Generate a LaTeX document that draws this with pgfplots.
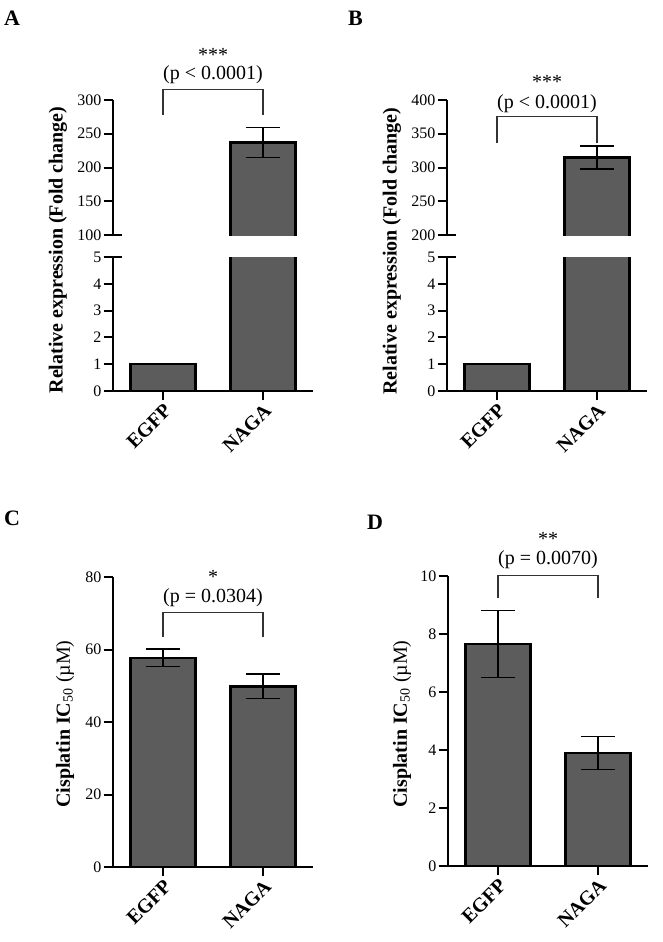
\documentclass[border=0pt]{standalone}
\usepackage{fontspec}
\setmainfont{Liberation Serif}
\usepackage{pgfplots}
\pgfplotsset{compat=1.18}
\definecolor{barfill}{RGB}{92,92,92}
\newcommand{\lblfont}{\fontsize{15}{18}\selectfont}
\newcommand{\panfont}{\fontsize{16.5}{19}\selectfont}
\newcommand{\tckfont}{\fontsize{12}{14}\selectfont}
\pgfplotsset{
  pan/.style={
    scale only axis, width=150pt,
    xmin=-0.5, xmax=1.5,
    axis x line=bottom, axis y line=left,
    x axis line style={-, line width=1.5pt},
    y axis line style={-, line width=1.5pt},
    tick align=outside, major tick length=7pt,
    tick style={black, line width=1.5pt},
    xtick={0,1}, xticklabels={EGFP,NAGA},
    xticklabel style={rotate=45, anchor=north east, font=\lblfont\bfseries, inner sep=1pt},
    yticklabel style={font=\tckfont, inner sep=1.5pt},
    /pgf/number format/assume math mode=true,
    minor tick num=0,
  },
  bars/.style={ybar, bar width=49pt, fill=barfill, draw=black, line width=1.8pt},
  errs/.style={draw=none, mark=none, forget plot,
    error bars/.cd, y dir=both, y explicit,
    error bar style={line width=1pt, draw=black},
    error mark=|, error mark options={draw=black, line width=1pt, mark size=12.5pt}},
  over/.style={scale only axis, width=150pt, xmin=-0.5, xmax=1.5, hide axis, clip=false},
  brk/.style={black!80, line width=0.8pt, sharp plot},
}
\begin{document}
\begin{tikzpicture}
\useasboundingbox (0,0) rectangle (496.5pt,-706.5pt);
% ---------------- Panel A ----------------
\begin{axis}[pan, at={(84.75pt,-176.25pt)}, anchor=south west, height=101.25pt,
  ymin=100, ymax=300, ytick={100,150,200,250,300}, axis x line=none,
  extra y ticks={100}, extra y tick labels={}, extra y tick style={tick align=inside}]
% upper part of the NAGA bar (237), drawn open at the break
\addplot[fill=barfill, draw=none] coordinates {(0.6733,0) (0.6733,237) (1.3267,237) (1.3267,0)} -- cycle;
\addplot[draw=black, line width=1.8pt] coordinates {(0.6733,0) (0.6733,237) (1.3267,237) (1.3267,0)};
\addplot[errs] coordinates {(1,237) +- (0,22)};
\end{axis}
\begin{axis}[pan, at={(84.75pt,-293.25pt)}, anchor=south west, height=100.5pt,
  ymin=0, ymax=5, ytick={0,1,2,3,4,5},
  extra y ticks={5}, extra y tick labels={}, extra y tick style={tick align=inside}]
\addplot[bars] coordinates {(0,1) (1,237)};
\end{axis}
\begin{axis}[over, at={(84.75pt,-176.25pt)}, anchor=south west, height=101.25pt, ymin=100, ymax=300]
\addplot[brk] coordinates {(0,278) (0,316) (1,316) (1,278)};
\node[font=\lblfont] at (axis cs:0.5,367) {***};
\node[font=\lblfont] at (axis cs:0.5,337) {(p \textless{} 0.0001)};
\end{axis}
% ---------------- Panel B ----------------
\begin{axis}[pan, at={(335.25pt,-176.25pt)}, anchor=south west, height=101.25pt,
  ymin=200, ymax=400, ytick={200,250,300,350,400}, axis x line=none,
  extra y ticks={200}, extra y tick labels={}, extra y tick style={tick align=inside}]
\addplot[fill=barfill, draw=none] coordinates {(0.6733,0) (0.6733,315) (1.3267,315) (1.3267,0)} -- cycle;
\addplot[draw=black, line width=1.8pt] coordinates {(0.6733,0) (0.6733,315) (1.3267,315) (1.3267,0)};
\addplot[errs] coordinates {(1,315) +- (0,17)};
\end{axis}
\begin{axis}[pan, at={(335.25pt,-293.25pt)}, anchor=south west, height=100.5pt,
  ymin=0, ymax=5, ytick={0,1,2,3,4,5},
  extra y ticks={5}, extra y tick labels={}, extra y tick style={tick align=inside}]
\addplot[bars] coordinates {(0,1) (1,315)};
\end{axis}
\begin{axis}[over, at={(335.25pt,-176.25pt)}, anchor=south west, height=101.25pt, ymin=200, ymax=400]
\addplot[brk] coordinates {(0,336) (0,375) (1,375) (1,336)};
\node[font=\lblfont] at (axis cs:0.5,426) {***};
\node[font=\lblfont] at (axis cs:0.5,394) {(p \textless{} 0.0001)};
\end{axis}
% ---------------- Panel C ----------------
\begin{axis}[pan, at={(84.75pt,-650.25pt)}, anchor=south west, height=217.5pt,
  ymin=0, ymax=80, ytick={0,20,40,60,80}, clip=false]
\addplot[bars] coordinates {(0,57.7) (1,49.8)};
\addplot[errs] coordinates {(0,57.7) +- (0,2.4) (1,49.8) +- (0,3.4)};
\addplot[brk] coordinates {(0,63.5) (0,70.1) (1,70.1) (1,63.5)};
\node[font=\lblfont] at (axis cs:0.5,80.0) {*};
\node[font=\lblfont] at (axis cs:0.5,74.2) {(p = 0.0304)};
\end{axis}
% ---------------- Panel D ----------------
\begin{axis}[pan, at={(336pt,-649.5pt)}, anchor=south west, height=217.5pt,
  ymin=0, ymax=10, ytick={0,2,4,6,8,10}, clip=false]
\addplot[bars] coordinates {(0,7.65) (1,3.9)};
\addplot[errs] coordinates {(0,7.65) +- (0,1.15) (1,3.9) +- (0,0.57)};
\addplot[brk] coordinates {(0,9.25) (0,10.03) (1,10.03) (1,9.25)};
\node[font=\lblfont] at (axis cs:0.5,11.27) {**};
\node[font=\lblfont] at (axis cs:0.5,10.57) {(p = 0.0070)};
\end{axis}
% ---------------- labels ----------------
\node[rotate=90, font=\lblfont\bfseries] at (43.5pt,-187.5pt) {Relative expression (Fold change)};
\node[rotate=90, font=\lblfont\bfseries] at (294pt,-188.5pt) {Relative expression (Fold change)};
\node[rotate=90, font=\lblfont] at (48.75pt,-543pt) {\textbf{Cisplatin IC}\textsubscript{50} (µM)};
\node[rotate=90, font=\lblfont] at (301.5pt,-543pt) {\textbf{Cisplatin IC}\textsubscript{50} (µM)};
\node[font=\panfont\bfseries] at (9pt,-13.9pt) {A};
\node[font=\panfont\bfseries] at (266.6pt,-13.9pt) {B};
\node[font=\panfont\bfseries] at (9pt,-388.9pt) {C};
\node[font=\panfont\bfseries] at (281.25pt,-391.5pt) {D};
\end{tikzpicture}
\end{document}
